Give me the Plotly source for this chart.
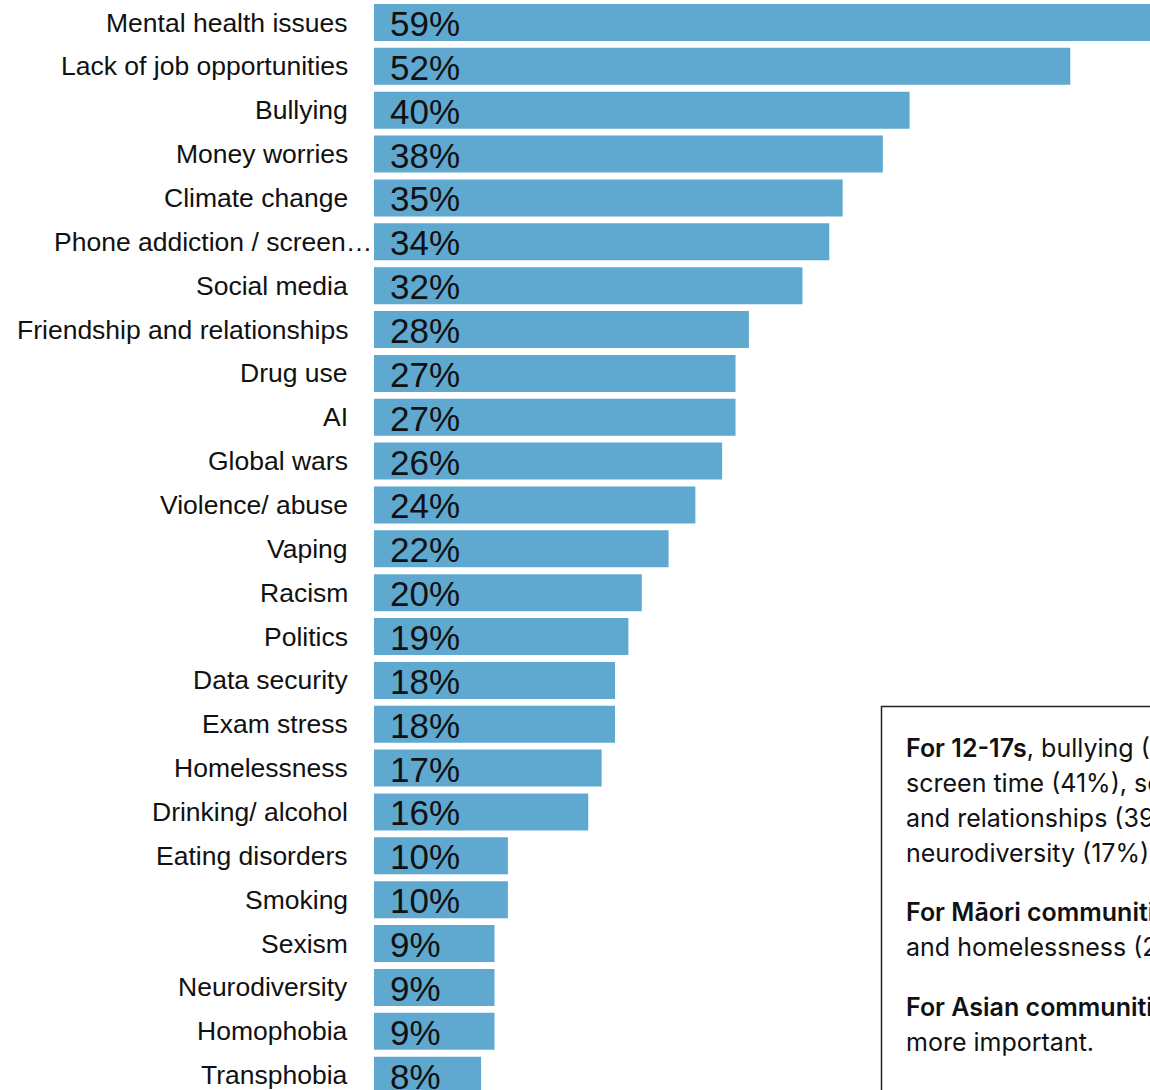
import plotly.graph_objects as go

# Issues young people care about, share of respondents (%)
issues = [
    "Mental health issues", "Lack of job opportunities", "Bullying", "Money worries",
    "Climate change", "Phone addiction / screen…", "Social media",
    "Friendship and relationships", "Drug use", "AI", "Global wars", "Violence/ abuse",
    "Vaping", "Racism", "Politics", "Data security", "Exam stress", "Homelessness",
    "Drinking/ alcohol", "Eating disorders", "Smoking", "Sexism", "Neurodiversity",
    "Homophobia", "Transphobia",
]
shares = [59, 52, 40, 38, 35, 34, 32, 28, 27, 27, 26, 24, 22, 20, 19, 18, 18, 17, 16,
          10, 10, 9, 9, 9, 8]

# Callout paragraphs, one entry per line: (bold lead-in, regular remainder)
note_lines = [
    ("For 12-17s", ", bullying (44%), phone addiction /"),
    ("", "screen time (41%), social media (38%), friendship"),
    ("", "and relationships (39%), eating disorders and"),
    ("", "neurodiversity (17%) rank higher."),
    ("For Māori communities", ", racism (27%)"),
    ("", "and homelessness (23%) rank higher."),
    ("For Asian communities", ", exam stress is"),
    ("", "more important."),
]
note_line_y = [748, 783, 818, 853, 912, 947, 1007, 1042]

W, H = 1150, 1090
LEFT = 374
PX_PER_PCT = 13.39
ROW = 43.86
FIRST_ROW_CENTER = 22.5

BAR_COLOR = "#5fa9d1"
INK = "#111111"

fig = go.Figure(
    go.Bar(
        x=shares,
        y=issues,
        orientation="h",
        marker=dict(color=BAR_COLOR, line=dict(width=0)),
        hoverinfo="x+y",
    )
)

annotations = []
for name, v in zip(issues, shares):
    # category label to the left of the bar
    annotations.append(dict(
        x=0, xref="paper", y=name, yref="y",
        text=name, showarrow=False,
        xanchor="right", yanchor="middle",
        xshift=0 if name.endswith("…") else -24,
        font=dict(family="Liberation Sans, Arial", size=26.5, color=INK),
    ))
    # value label inside the bar
    annotations.append(dict(
        x=0, xref="x", y=name, yref="y",
        text=f"{v}%", showarrow=False,
        xanchor="left", yanchor="middle", xshift=14, yshift=-1,
        font=dict(family="Liberation Sans, Arial", size=35, color=INK),
    ))

plot_w = W - LEFT


def px_to_paper_x(px):
    return (px - LEFT) / plot_w


def px_to_paper_y(py):
    return 1 - py / H


for (lead, rest), ly in zip(note_lines, note_line_y):
    txt = (f'<span style="font-weight:600">{lead}</span>' if lead else "") + rest
    annotations.append(dict(
        x=px_to_paper_x(904), xref="paper", y=px_to_paper_y(ly), yref="paper",
        text=txt, showarrow=False, align="left",
        xanchor="left", yanchor="middle",
        font=dict(family="Inter", size=25, color=INK),
    ))

fig.add_shape(
    type="rect", xref="paper", yref="paper",
    x0=px_to_paper_x(881.5), x1=px_to_paper_x(1400),
    y0=px_to_paper_y(1300), y1=px_to_paper_y(706.5),
    line=dict(color="#222222", width=1.5), fillcolor="rgba(0,0,0,0)",
    layer="above",
)

top = -FIRST_ROW_CENTER / ROW
bottom = top + H / ROW

fig.update_layout(
    width=W, height=H,
    margin=dict(l=LEFT, r=0, t=0, b=0, pad=0),
    paper_bgcolor="white", plot_bgcolor="white",
    bargap=1 - 37 / ROW,
    showlegend=False,
    annotations=annotations,
    xaxis=dict(range=[0, plot_w / PX_PER_PCT], visible=False, fixedrange=True),
    yaxis=dict(
        type="category", categoryorder="array", categoryarray=issues,
        range=[bottom, top], showticklabels=False, showgrid=False,
        zeroline=False, ticks="", fixedrange=True,
    ),
)

fig.write_html("out.html", config={"displayModeBar": False})
